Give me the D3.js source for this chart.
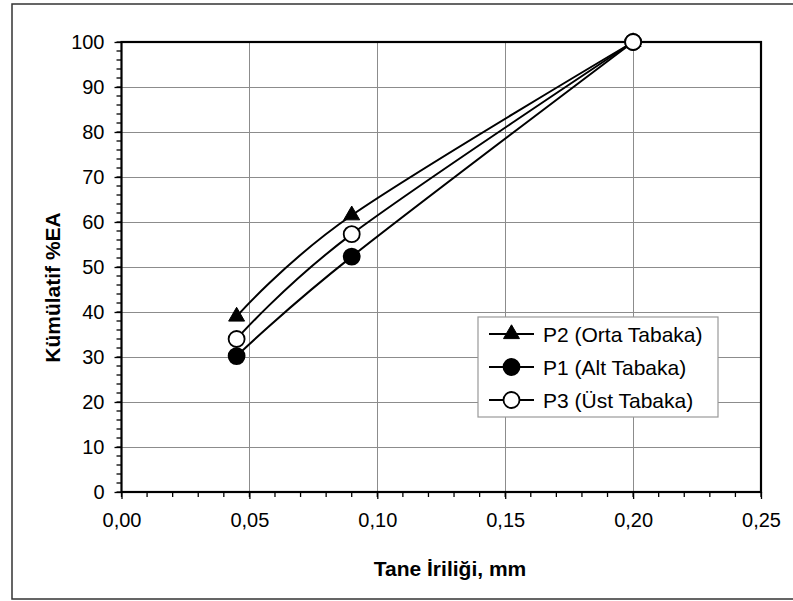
<!DOCTYPE html>
<html>
<head>
<meta charset="utf-8">
<script src="https://cdn.jsdelivr.net/npm/d3@7"></script>
<style>
  html, body { margin: 0; padding: 0; background: #fff; }
  svg { display: block; font-family: Arial, "Liberation Sans", sans-serif; }
</style>
</head>
<body>
<svg id="chart" width="793" height="601"></svg>
<script>
// Grain size (mm) on the x axis
const sizes = [0.045, 0.09, 0.2];

// Cumulative %EA per layer
const p2Orta = [39, 61.5, 100];
const p1Alt  = [30.2, 52.3, 100];
const p3Ust  = [34, 57.3, 100];

const seriesNames = ["P2 (Orta Tabaka)", "P1 (Alt Tabaka)", "P3 (Üst Tabaka)"];
const seriesMarkers = ["triangle", "filled", "open"];

const xTicks = [0, 0.05, 0.10, 0.15, 0.20, 0.25];
const yTicks = [0, 10, 20, 30, 40, 50, 60, 70, 80, 90, 100];

const xTitle = "Tane İriliği, mm";
const yTitle = "Kümülatif %EA";

const svg = d3.select("#chart");

// outer frame
svg.append("rect")
  .attr("x", 12).attr("y", 4).attr("width", 800).attr("height", 595)
  .attr("fill", "#fff").attr("stroke", "#333").attr("stroke-width", 1.5);

const plot = { left: 121.5, right: 761, top: 42, bottom: 492 };

const x = d3.scaleLinear().domain([0, 0.25]).range([plot.left, plot.right]);
const y = d3.scaleLinear().domain([0, 100]).range([plot.bottom, plot.top]);

// gridlines
const grid = svg.append("g").attr("stroke", "#8c8c8c").attr("stroke-width", 1);
yTicks.filter(v => v > 0 && v < 100).forEach(v => {
  grid.append("line").attr("x1", plot.left).attr("x2", plot.right)
    .attr("y1", Math.round(y(v)) + 0.5).attr("y2", Math.round(y(v)) + 0.5);
});
xTicks.filter(v => v > 0 && v < 0.25).forEach(v => {
  grid.append("line").attr("y1", plot.top).attr("y2", plot.bottom)
    .attr("x1", Math.round(x(v)) + 0.5).attr("x2", Math.round(x(v)) + 0.5);
});

// minor ticks
const minorX = d3.range(0, 0.2501, 0.01);
const minorY = d3.range(0, 100.01, 2);
const ticks = svg.append("g").attr("stroke", "#000").attr("stroke-width", 1.3);
minorX.forEach(v => {
  ticks.append("line").attr("x1", x(v)).attr("x2", x(v))
    .attr("y1", plot.bottom).attr("y2", plot.bottom + 5);
});
minorY.forEach(v => {
  ticks.append("line").attr("y1", y(v)).attr("y2", y(v))
    .attr("x1", plot.left - 5).attr("x2", plot.left);
});

// major axes
const xAxis = d3.axisBottom(x).tickValues(xTicks).tickSizeInner(7).tickSizeOuter(0)
  .tickPadding(14).tickFormat(d => d3.format(".2f")(d).replace(".", ","));
const yAxis = d3.axisLeft(y).tickValues(yTicks).tickSizeInner(7).tickSizeOuter(0)
  .tickPadding(10).tickFormat(d3.format("d"));

const gx = svg.append("g").attr("transform", `translate(0,${plot.bottom})`).call(xAxis);
const gy = svg.append("g").attr("transform", `translate(${plot.left},0)`).call(yAxis);
[gx, gy].forEach(g => {
  g.select(".domain").remove();
  g.selectAll(".tick line").attr("stroke", "#000").attr("stroke-width", 1.3);
  g.selectAll(".tick text").attr("fill", "#000").attr("font-size", 20)
    .attr("font-family", "Arial, 'Liberation Sans', sans-serif");
});

// plot frame
svg.append("rect")
  .attr("x", plot.left).attr("y", plot.top)
  .attr("width", plot.right - plot.left).attr("height", plot.bottom - plot.top)
  .attr("fill", "none").attr("stroke", "#000").attr("stroke-width", 2.2);

// axis titles
svg.append("text").attr("x", 450).attr("y", 575.5).attr("text-anchor", "middle")
  .attr("font-size", 21).attr("font-weight", "bold").text(xTitle);
svg.append("text").attr("transform", "translate(59.5,287.5) rotate(-90)")
  .attr("text-anchor", "middle").attr("font-size", 21).attr("font-weight", "bold").text(yTitle);

// series
const seriesValues = [p2Orta, p1Alt, p3Ust];
const line = d3.line().x(d => x(d[0])).y(d => y(d[1])).curve(d3.curveCardinal.tension(0));

function drawMarker(g, type, cx, cy) {
  if (type === "triangle") {
    const s = d3.symbol().type(d3.symbolTriangle).size(110);
    g.append("path").attr("d", s()).attr("transform", `translate(${cx},${cy})`)
      .attr("fill", "#000").attr("stroke", "#000").attr("stroke-width", 1);
  } else {
    g.append("circle").attr("cx", cx).attr("cy", cy).attr("r", 8)
      .attr("fill", type === "filled" ? "#000" : "#fff")
      .attr("stroke", "#000").attr("stroke-width", 1.8);
  }
}

seriesValues.forEach((vals, i) => {
  const pts = sizes.map((s, j) => [s, vals[j]]);
  const g = svg.append("g");
  g.append("path").attr("d", line(pts)).attr("fill", "none")
    .attr("stroke", "#000").attr("stroke-width", 2);
  pts.forEach(p => drawMarker(g, seriesMarkers[i], x(p[0]), y(p[1])));
});

// legend
const lg = svg.append("g");
lg.append("rect").attr("x", 478).attr("y", 317).attr("width", 240).attr("height", 100)
  .attr("fill", "#fff").attr("stroke", "#999").attr("stroke-width", 1.2);
seriesNames.forEach((name, i) => {
  const cy = 334 + i * 33;
  lg.append("line").attr("x1", 489).attr("x2", 534).attr("y1", cy).attr("y2", cy)
    .attr("stroke", "#000").attr("stroke-width", 2);
  drawMarker(lg, seriesMarkers[i], 511.5, cy);
  lg.append("text").attr("x", 543).attr("y", cy + 7.5).attr("font-size", 21).text(name);
});
</script>
</body>
</html>
